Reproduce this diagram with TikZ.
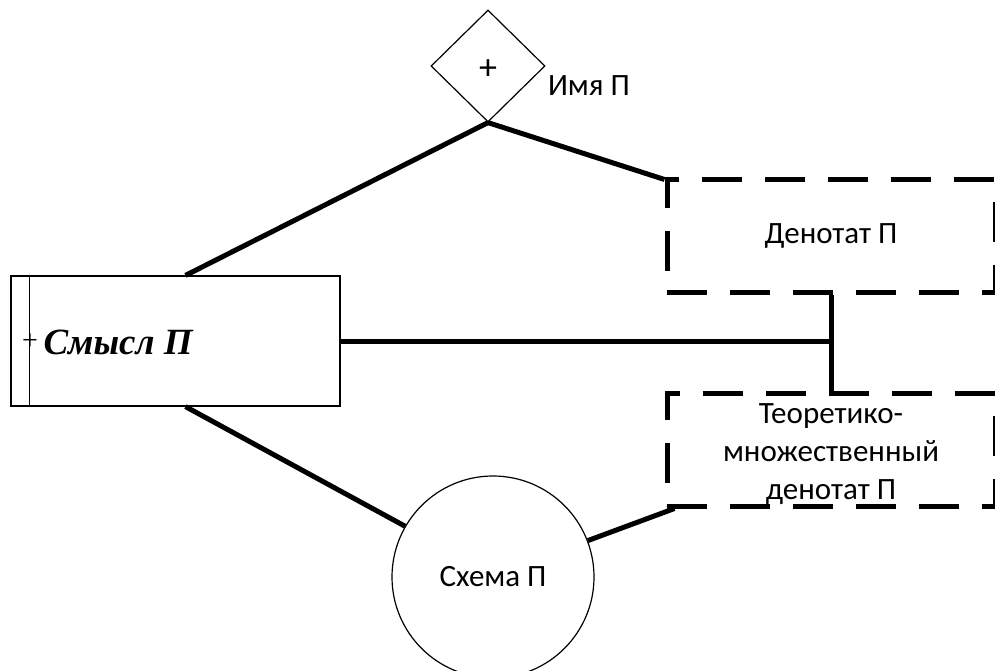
\documentclass[tikz,border=0pt]{standalone}
\usepackage{fontspec}
\setmainfont{Carlito}
\newfontfamily\timesfont{Liberation Serif}
\usetikzlibrary{shapes.geometric}
\begin{document}
\begin{tikzpicture}[x=1pt,y=-1pt,
  every node/.style={font=\fontsize{31}{38}\selectfont},
  frame/.style={draw,line width=1.2pt,inner sep=0pt},
  dashbox/.style={draw,line width=5pt,dash pattern=on 40pt off 23pt,
    minimum width=328pt,minimum height=112pt,align=center},
  link/.style={line width=5pt}]
\useasboundingbox (0,0) rectangle (995,671);
\node[frame,diamond,minimum width=114pt,minimum height=112pt,
  label={[font=\fontsize{36}{38}\selectfont,yshift=-4pt]center:+}] (imya) at (488,66) {};
\node (imyalbl) at (589,86) {Имя П};
\node[frame,minimum width=329pt,minimum height=130pt] (smysl) at (175.5,341) {};
\draw[line width=1.2pt] ([xshift=19pt]smysl.north west) -- ([xshift=19pt]smysl.south west);
\node[anchor=west,font=\timesfont\bfseries\itshape\fontsize{37}{40}\selectfont] (smysllbl) at (40,342) {Смысл П};
\node[font=\timesfont\fontsize{28}{30}\selectfont,inner sep=0pt] (plus) at (30,342) {+};
\node[dashbox] (denotat) at (831,236) {Денотат П};
\node[dashbox,minimum height=113pt,
  label={[align=center,yshift=-5pt]center:Теоретико-\\множественный\\денотат П}] (theor) at (831,449.5) {};
\node[frame,circle,minimum size=202pt] (skhema) at (493,577) {Схема П};
\coordinate (junction) at (denotat.south |- smysl.east);
\draw[link] (imya.south) -- ([xshift=10pt]smysl.north);
\draw[link] (imya.south) -- ([yshift=-2pt]denotat.north west);
\draw[link] (smysl.east) -- (junction);
\draw[link] (denotat.south) -- (theor.north);
\draw[link] ([xshift=10pt]smysl.south) -- (skhema.150);
\draw[link] (skhema.21) -- ([xshift=10pt]theor.south west);
\end{tikzpicture}
\end{document}
